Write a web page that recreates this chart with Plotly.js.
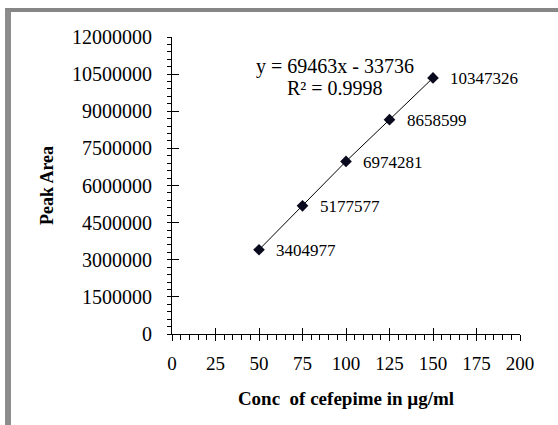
<!DOCTYPE html>
<html>
<head>
<meta charset="utf-8">
<script src="https://cdn.plot.ly/plotly-3.0.1.min.js"></script>
<style>
html,body{margin:0;padding:0;background:#fff;overflow:hidden;}
#frame{position:absolute;left:5px;top:8px;width:600px;height:500px;border-top:4px solid #868686;border-left:6px solid #8c8c8c;box-sizing:border-box;}
#chart{position:absolute;left:0;top:0;width:558px;height:425px;}
</style>
</head>
<body>
<div id="frame"></div>
<div id="chart"></div>
<script>
const conc = [50, 75, 100, 125, 150];
const peakArea = [3404977, 5177577, 6974281, 8658599, 10347326];
const pointLabels = ["3404977", "5177577", "6974281", "8658599", "10347326"];
const xTickVals = [0, 25, 50, 75, 100, 125, 150, 175, 200];
const yTickVals = [0, 1500000, 3000000, 4500000, 6000000, 7500000, 9000000, 10500000, 12000000];
const equationText = "y = 69463x - 33736";
const r2Text = "R² = 0.9998";

const serif = "Liberation Serif, Times New Roman, serif";

const traces = [
  {
    x: conc, y: peakArea, type: 'scatter', mode: 'lines+markers',
    line: {color: '#000', width: 1},
    marker: {symbol: 'diamond', size: 9, color: '#0a0a1e'},
    hoverinfo: 'none', showlegend: false
  },
  {
    x: [0], y: [0], xaxis: 'x2', yaxis: 'y2', type: 'scatter', mode: 'markers',
    marker: {opacity: 0}, hoverinfo: 'none', showlegend: false
  }
];

const annotations = conc.map((c, i) => ({
  x: c, y: peakArea[i], xref: 'x', yref: 'y', text: pointLabels[i],
  showarrow: false, xanchor: 'left', yanchor: 'middle', xshift: 15, yshift: -1,
  font: {family: serif, size: 17, color: '#000'}
}));
annotations.push({
  x: 0.468, y: 0.901, xref: 'paper', yref: 'paper', text: equationText,
  showarrow: false, xanchor: 'center', yanchor: 'middle',
  font: {family: serif, size: 20, color: '#000'}
});
annotations.push({
  x: 0.468, y: 0.829, xref: 'paper', yref: 'paper', text: r2Text,
  showarrow: false, xanchor: 'center', yanchor: 'middle',
  font: {family: serif, size: 20, color: '#000'}
});

const axisCommon = {
  showgrid: false, zeroline: false, showline: true, linecolor: '#000', linewidth: 1,
  tickcolor: '#000', tickwidth: 1
};

const layout = {
  width: 558, height: 425,
  margin: {l: 172, r: 38, t: 37, b: 91, pad: 0},
  paper_bgcolor: 'rgba(0,0,0,0)', plot_bgcolor: 'rgba(0,0,0,0)',
  showlegend: false,
  xaxis: Object.assign({}, axisCommon, {
    range: [0, 200], tickmode: 'array', tickvals: xTickVals,
    ticks: 'outside', ticklen: 6, ticklabelstandoff: 6,
    minor: {dtick: 5, ticks: 'outside', ticklen: 5, tickcolor: '#000', tickwidth: 1, showgrid: false},
    tickfont: {family: serif, size: 19, color: '#000'},
    title: {text: 'Conc  of cefepime in µg/ml', standoff: 18,
            font: {family: serif, size: 19, color: '#000', weight: 'bold'}}
  }),
  yaxis: Object.assign({}, axisCommon, {
    range: [0, 12000000], tickmode: 'array', tickvals: yTickVals,
    ticktext: yTickVals.map(v => String(v)),
    ticks: 'outside', ticklen: 4, ticklabelstandoff: 11,
    minor: {dtick: 300000, ticks: 'outside', ticklen: 4, tickcolor: '#000', tickwidth: 1, showgrid: false},
    tickfont: {family: serif, size: 20, color: '#000'},
    title: {text: 'Peak Area', standoff: 13,
            font: {family: serif, size: 18, color: '#000', weight: 'bold'}}
  }),
  xaxis2: Object.assign({}, axisCommon, {
    overlaying: 'x', range: [0, 200], tickmode: 'array', tickvals: xTickVals,
    ticks: 'inside', ticklen: 6, showticklabels: false, side: 'bottom', anchor: 'y'
  }),
  yaxis2: Object.assign({}, axisCommon, {
    overlaying: 'y', range: [0, 12000000], tickmode: 'array', tickvals: yTickVals,
    ticks: 'inside', ticklen: 7, showticklabels: false, side: 'left', anchor: 'x'
  }),
  annotations: annotations
};

Plotly.newPlot('chart', traces, layout, {displayModeBar: false, staticPlot: true});
</script>
</body>
</html>
